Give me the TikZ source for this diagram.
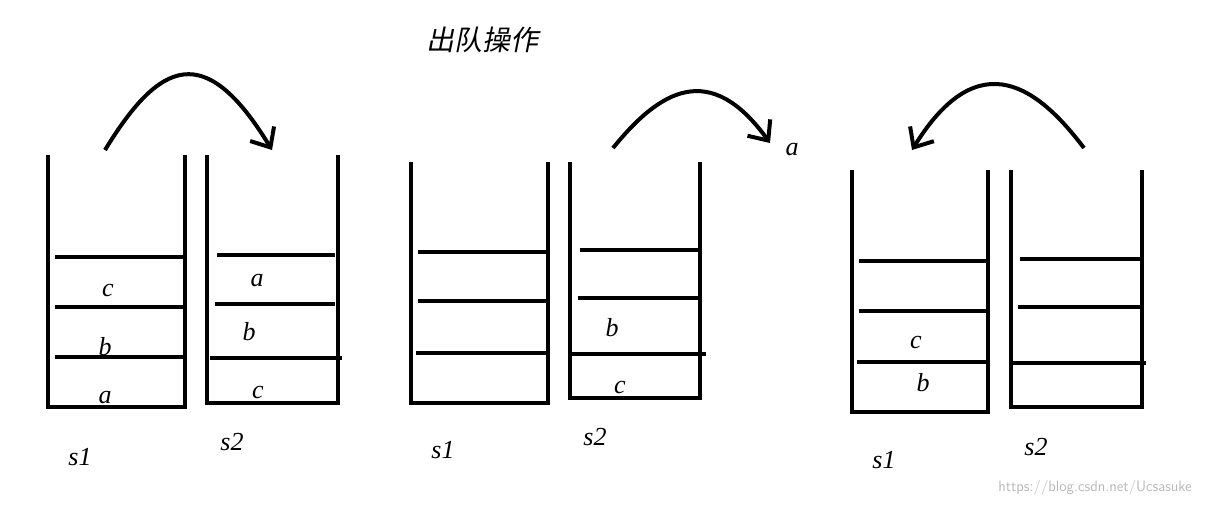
\documentclass[tikz,border=0pt]{standalone}
\usepackage{fontspec}
\setmainfont{Liberation Serif}
\newfontfamily\cjk[FakeSlant=0.2]{Noto Sans CJK SC}
\usetikzlibrary{arrows.meta}
\begin{document}
\begin{tikzpicture}[x=1pt,y=-1pt,
  wall/.style={line width=4pt},
  shelf/.style={line width=3.5pt},
  arc/.style={line width=4pt,-{Straight Barb[length=16pt,width=28pt,line width=4pt]}},
  lab/.style={font=\itshape\fontsize{26}{26}\selectfont},
  ]
\useasboundingbox (0,0) rectangle (1210,506);
\fill[white] (0,0) rectangle (1210,506);
\foreach \l/\r/\t/\b in {48/185/155/407, 207/338/155/403, 411/548/162/403, 570/700/162/398, 852/988/170/412, 1011/1142/170/407}{
  \draw[wall] (\l,\t) -- (\l,\b) -- (\r,\b) -- (\r,\t);
}
\foreach \a/\bb/\y in {55/183/257, 55/183/307, 55/183/357,
  217/335/255, 215/335/304, 210/342/358,
  418/546/252, 418/546/301, 416/546/353,
  580/698/250, 578/698/298, 572/706/354,
  859/986/261, 859/986/311, 857/986/362,
  1020/1140/259, 1018/1140/307, 1013/1146/363}{
  \draw[shelf] (\a,\y) -- (\bb,\y);
}
\node[lab] at (108,290) {c};
\node[lab] at (105,347) {b};
\node[lab] at (105,398) {a};
\node[lab] at (257,281) {a};
\node[lab] at (249,332) {b};
\node[lab] at (258,392) {c};
\node[lab] at (612,328) {b};
\node[lab] at (620,387) {c};
\node[lab] at (916,342) {c};
\node[lab] at (923,383) {b};
\node[lab] at (792,150) {a};
\node[lab] at (80,457) {s1};
\node[lab] at (232,442) {s2};
\node[lab] at (443,450) {s1};
\node[lab] at (595,437) {s2};
\node[lab] at (884,460) {s1};
\node[lab] at (1036,447) {s2};
\node[font=\cjk\fontsize{28}{28}\selectfont] at (482,40) {出队操作};
\node[font=\sffamily\fontsize{15}{15}\selectfont,text=gray!55] at (1095,488) {https://blog.csdn.net/Ucsasuke};
\draw[arc] (105,150) .. controls (160,60) and (205,40) .. (272,150);
\draw[arc] (613,148) .. controls (660,90) and (710,60) .. (770,143);
\draw[arc] (1084,148) .. controls (1040,90) and (980,40) .. (912,150);
\end{tikzpicture}
\end{document}
